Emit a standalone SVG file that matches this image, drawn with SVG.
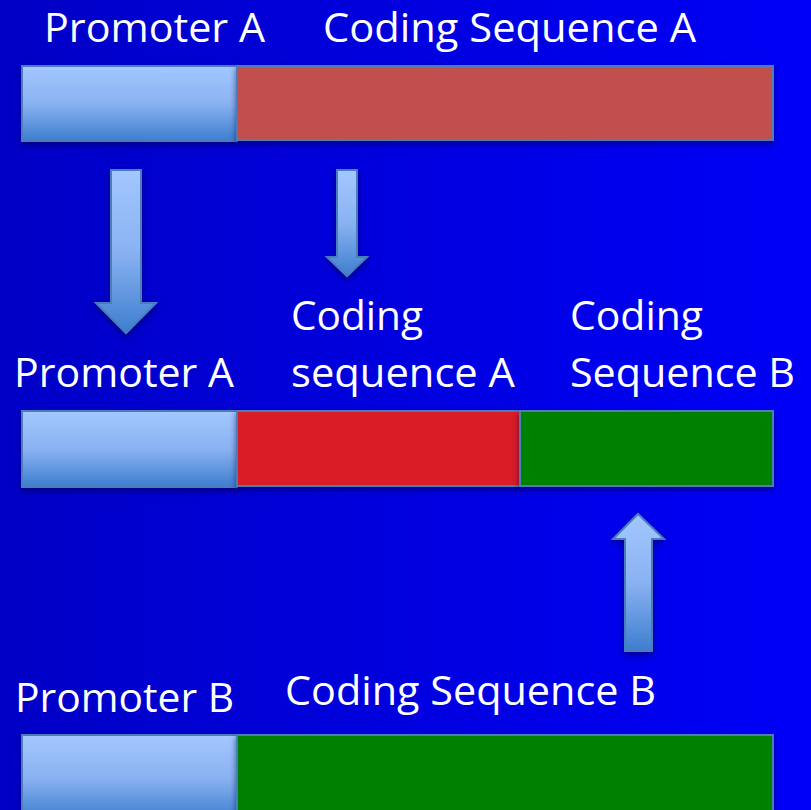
<svg xmlns="http://www.w3.org/2000/svg" width="811" height="810" viewBox="0 0 811 810">
  <defs>
    <linearGradient id="bg" x1="0" y1="0" x2="1" y2="0">
      <stop offset="0" stop-color="#0000C6"/>
      <stop offset="1" stop-color="#0000F8"/>
    </linearGradient>
    <linearGradient id="steel" x1="0" y1="0" x2="0" y2="1">
      <stop offset="0" stop-color="#A3C7FF"/>
      <stop offset="0.5" stop-color="#8AB2F2"/>
      <stop offset="1" stop-color="#3D7ECF"/>
    </linearGradient>
    <filter id="shadow" x="-10%" y="-10%" width="120%" height="140%">
      <feDropShadow dx="0" dy="3" stdDeviation="3" flood-color="#000040" flood-opacity="0.55"/>
    </filter>
    <style>
      .seg { stroke: #4A7EBB; stroke-width: 2; filter: url(#shadow); }
      .promoter { fill: url(#steel); }
      .cdsA { fill: #C0504D; }
      .cdsA2 { fill: #DA1F28; }
      .cdsB { fill: #008000; }
      .arrow { fill: url(#steel); stroke: #4A7EBB; stroke-width: 2; filter: url(#shadow); }
      .label { font-family: "Open Sans", "Noto Sans", "Liberation Sans", sans-serif; font-size: 40px; fill: #FFFFFF; }
    </style>
  </defs>

  <rect x="0" y="0" width="811" height="810" fill="url(#bg)"/>

  <!-- Top construct: promoter A driving coding sequence A -->
  <g id="promoterA-top">
    <rect class="seg promoter" x="22" y="66" width="215" height="75"/>
    <text class="label" x="44" y="42" textLength="221" lengthAdjust="spacingAndGlyphs">Promoter A</text>
  </g>
  <g id="cdsA-top">
    <rect class="seg cdsA" x="237" y="66" width="536" height="74"/>
    <text class="label" x="323" y="42" textLength="373" lengthAdjust="spacingAndGlyphs">Coding Sequence A</text>
  </g>

  <!-- Middle construct: fusion of A and B -->
  <g id="promoterA-mid">
    <rect class="seg promoter" x="22" y="411" width="215" height="76"/>
    <text class="label" x="14" y="387" textLength="220" lengthAdjust="spacingAndGlyphs">Promoter A</text>
  </g>
  <g id="cdsA-mid">
    <rect class="seg cdsA2" x="237" y="411" width="283" height="75"/>
    <text class="label" x="291" y="330" textLength="132" lengthAdjust="spacingAndGlyphs">Coding</text>
    <text class="label" x="291" y="387" textLength="224" lengthAdjust="spacingAndGlyphs">sequence A</text>
  </g>
  <g id="cdsB-mid">
    <rect class="seg cdsB" x="520" y="411" width="253" height="75"/>
    <text class="label" x="570" y="330" textLength="133" lengthAdjust="spacingAndGlyphs">Coding</text>
    <text class="label" x="570" y="387" textLength="225" lengthAdjust="spacingAndGlyphs">Sequence B</text>
  </g>

  <!-- Bottom construct: promoter B driving coding sequence B -->
  <g id="promoterB-bottom">
    <rect class="seg promoter" x="22" y="735" width="215" height="85"/>
    <text class="label" x="15" y="712" textLength="219" lengthAdjust="spacingAndGlyphs">Promoter B</text>
  </g>
  <g id="cdsB-bottom">
    <rect class="seg cdsB" x="237" y="735" width="536" height="85"/>
    <text class="label" x="285" y="705" textLength="371" lengthAdjust="spacingAndGlyphs">Coding Sequence B</text>
  </g>

  <!-- Block arrows linking the constructs -->
  <g id="connectors">
    <polygon class="arrow" points="111,170 141,170 141,303 156,303 126,333 96,303 111,303"/>
    <polygon class="arrow" points="337,170 357,170 357,257 367,257 347,276 327,257 337,257"/>
    <polygon class="arrow" points="625,651 652,651 652,539 664,539 638,514 613,539 625,539"/>
  </g>
</svg>
